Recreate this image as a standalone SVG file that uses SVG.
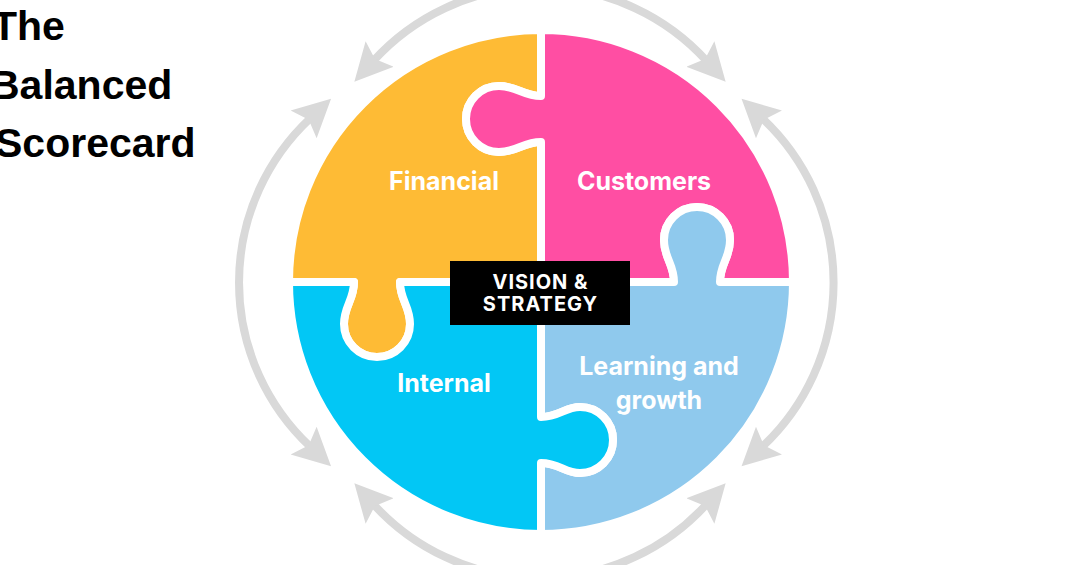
<svg xmlns="http://www.w3.org/2000/svg" width="1080" height="565" viewBox="0 0 1080 565">
  <style>
    .piece { stroke: #FFFFFF; stroke-width: 8; stroke-linejoin: round; }
    .label { font-family: Inter, "Liberation Sans", sans-serif; font-weight: 700; font-size: 25px; fill: #FFFFFF; text-anchor: middle; }
    .title { font-family: "Liberation Sans", Arial, sans-serif; font-weight: 700; font-size: 41px; fill: #000000; }
    .vision { font-family: Inter, "Liberation Sans", sans-serif; font-weight: 700; font-size: 20px; fill: #FFFFFF; text-anchor: middle; letter-spacing: 1px; }
    .arc { fill: none; stroke: #D9D9D9; stroke-width: 8; }
  </style>
  <defs>
    <marker id="ah" markerUnits="userSpaceOnUse" markerWidth="40" markerHeight="40" viewBox="0 -20 40 40" refX="9" refY="0" orient="auto-start-reverse">
      <path d="M0,-19 L37.6,0 L0,19 L7,0 Z" fill="#D9D9D9"/>
    </marker>
  </defs>
  <rect x="0" y="0" width="1080" height="565" fill="#FFFFFF"/>

  <g id="title">
    <text class="title" x="-8" y="40">The</text>
    <text class="title" x="-10" y="99">Balanced</text>
    <text class="title" x="-5" y="157">Scorecard</text>
  </g>

  <g id="connectors">
    <path class="arc" d="M 373.6 60.6 A 225 225 0 0 1 706.4 60.6" marker-start="url(#ah)" marker-end="url(#ah)"/>
    <path class="arc" d="M 762.4 118.3 A 225 225 0 0 1 762.4 446.7" marker-start="url(#ah)" marker-end="url(#ah)"/>
    <path class="arc" d="M 373.6 504.4 A 225 225 0 0 0 706.4 504.4" marker-start="url(#ah)" marker-end="url(#ah)"/>
    <path class="arc" d="M 310.2 118.3 A 225 225 0 0 0 310.2 446.7" marker-start="url(#ah)" marker-end="url(#ah)"/>
  </g>

  <g id="financial">
    <path class="piece" fill="#FEBB35" d="M 289 282 A 252 252 0 0 1 541 30 L 541 96 C 523 96 517 86 499 86 A 33 33 0 0 0 466 119 A 33 33 0 0 0 499 152 C 517 152 523 142 541 142 L 541 282 L 400 282 C 400 300 410 306 410 324 A 33 33 0 0 1 377 357 A 33 33 0 0 1 344 324 C 344 306 354 300 354 282 Z"/>
    <text class="label" x="444" y="190">Financial</text>
  </g>

  <g id="customers">
    <path class="piece" fill="#FF4EA3" d="M 541 30 A 252 252 0 0 1 793 282 L 720 282 C 720 264 730 258 730 240 A 33 33 0 0 0 697 207 A 33 33 0 0 0 664 240 C 664 258 674 264 674 282 L 541 282 L 541 142 C 523 142 517 152 499 152 A 33 33 0 0 1 466 119 A 33 33 0 0 1 499 86 C 517 86 523 96 541 96 Z"/>
    <text class="label" x="644" y="190">Customers</text>
  </g>

  <g id="learning">
    <path class="piece" fill="#8FC9ED" d="M 793 282 A 252 252 0 0 1 541 534 L 541 463 C 559 463 565 473 580 473 A 33 33 0 0 0 613 440 A 33 33 0 0 0 580 407 C 565 407 559 417 541 417 L 541 282 L 674 282 C 674 264 664 258 664 240 A 33 33 0 0 1 697 207 A 33 33 0 0 1 730 240 C 730 258 720 264 720 282 Z"/>
    <text class="label" x="659" y="375">Learning and</text>
    <text class="label" x="659" y="409">growth</text>
  </g>

  <g id="internal">
    <path class="piece" fill="#02C7F5" d="M 541 534 A 252 252 0 0 1 289 282 L 354 282 C 354 300 344 306 344 324 A 33 33 0 0 0 377 357 A 33 33 0 0 0 410 324 C 410 306 400 300 400 282 L 541 282 L 541 417 C 559 417 565 407 580 407 A 33 33 0 0 1 613 440 A 33 33 0 0 1 580 473 C 565 473 559 463 541 463 Z"/>
    <text class="label" x="444" y="392">Internal</text>
  </g>

  <g id="vision">
    <rect x="450" y="261" width="180" height="64" fill="#000000"/>
    <text class="vision" x="540.5" y="289">VISION &amp;</text>
    <text class="vision" x="540.5" y="311">STRATEGY</text>
  </g>
</svg>
